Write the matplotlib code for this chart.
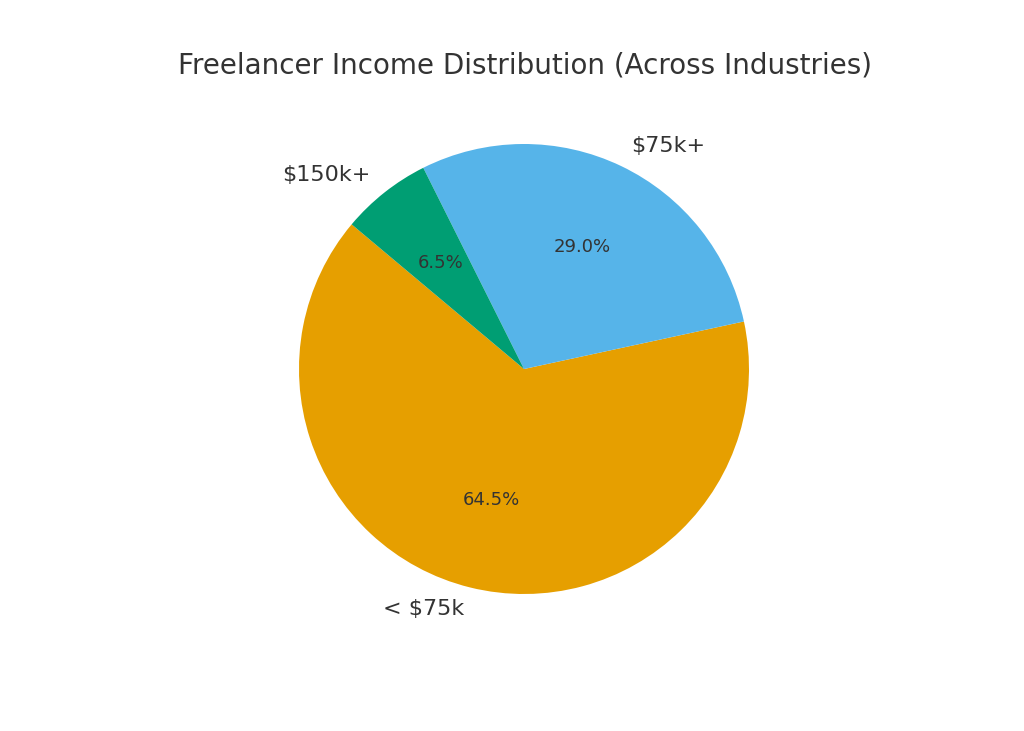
import matplotlib.pyplot as plt

labels = ['< $75k', '$75k+', '$150k+']
values = [64.5, 29.0, 6.5]
colors = ['#E69F00', '#56B4E9', '#009E73']

fig = plt.figure(figsize=(10.24, 7.31), dpi=100)
ax = fig.add_axes([(524 - 247.5) / 1024, (362 - 247.5) / 731, 495 / 1024, 495 / 731])
wedges, texts, autotexts = ax.pie(values, labels=labels, colors=colors, autopct='%1.1f%%',
                                  startangle=140, textprops={'color': '#333333', 'fontsize': 16})
for t in autotexts:
    t.set_fontsize(13)
ax.set_xlim(-1.1, 1.1)
ax.set_ylim(-1.1, 1.1)
ax.set_aspect('equal')
fig.text(0.513, 0.91, 'Freelancer Income Distribution (Across Industries)', ha='center', va='center',
         fontsize=20, color='#333333')
fig.savefig('out.png', dpi=100)
